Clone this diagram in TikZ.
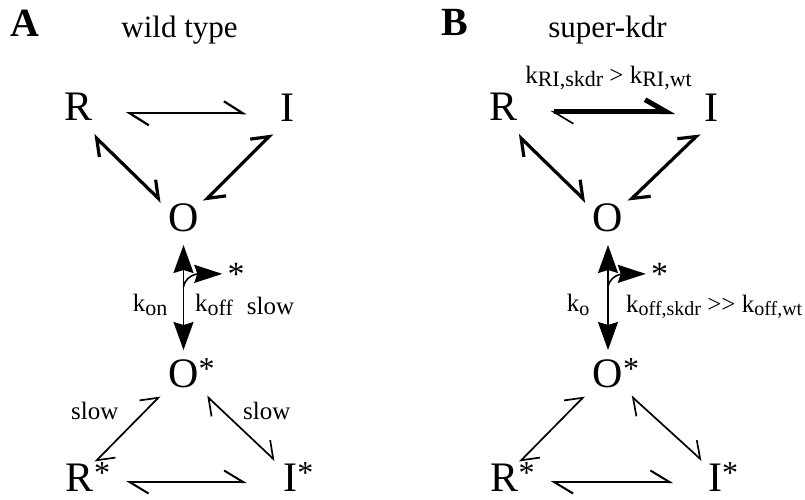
\documentclass[tikz,border=0pt]{standalone}
\usepackage{fontspec}
\setmainfont{Liberation Serif}
\usetikzlibrary{arrows.meta,calc}
\newcommand{\st}{\rlap{\raisebox{8pt}{\fontsize{32}{32}\selectfont *}}}
\newcommand{\kr}[2][22]{k\raisebox{-3.3pt}{\fontsize{#1}{#1}\selectfont #2}}

\begin{document}
\begin{tikzpicture}[
  x=1pt,y=-1pt,
  species/.style={font=\fontsize{42}{42}\selectfont,inner sep=0pt,outer sep=0pt,anchor=base},
  ratelbl/.style={font=\fontsize{25}{25}\selectfont,inner sep=0pt,anchor=base west},
  panel/.style={font=\bfseries\fontsize{40}{40}\selectfont,inner sep=0pt,anchor=base west},
  strain/.style={font=\fontsize{31}{31}\selectfont,inner sep=0pt,anchor=base},
  ligand/.style={font=\fontsize{34}{34}\selectfont,inner sep=0pt,anchor=base},
  % setas de equilibrio (meia-ponta em cada extremo)
  eqlink/.style={line width=2.2pt,arrows={Straight Barb[left,length=19pt,width=24pt]-Straight Barb[left,length=19pt,width=24pt]}},
  eqbold/.style={line width=3.2pt,arrows={Straight Barb[left,length=15pt,width=23pt]-Straight Barb[left,length=15pt,width=23pt]}},
  eqlow/.style={line width=1.7pt,arrows={Straight Barb[left,length=15pt,width=23pt]-Straight Barb[left,length=15pt,width=23pt]}},
  eqbase/.style={line width=2pt,arrows={Straight Barb[left,length=19pt,width=23pt]-Straight Barb[left,length=19pt,width=23pt]}},
  eqfast/.style={line width=5pt,arrows={Straight Barb[left,length=20pt,width=24pt,line width=1.6pt]-Straight Barb[left,length=21pt,width=24pt]}},
  binding/.style={line width=1.6pt,arrows={Stealth[length=28pt,width=20pt,inset=3pt]-Stealth[length=28pt,width=20pt,inset=3pt]}},
  release/.style={line width=1.6pt,arrows={-Stealth[length=28pt,width=18pt,inset=3pt]}}
]
\useasboundingbox (0,0) rectangle (805,499);

% ── Painel A: wild type ──────────────────────────────────────────────────────
\node[panel]  (hdA) at (10,36) {A};
\node[strain] (wtA) at (179.5,37.7) {wild type};
\node[species] (RA)  at (78.5,120)   {R};
\node[species] (IA)  at (287,121)    {I};
\node[species] (OA)  at (183.5,231)  {O};
\node[species] (OsA) at (183.5,387.5){O\st};
\node[species] (RsA) at (80,491)     {R\st};
\node[species] (IsA) at (290.5,491)  {I\st};
\node[ligand]  (starA) at (236,285)  {*};

\draw[eqlink] ([shift={(47.5,-6.7)}]RA.base) -- ([shift={(-40.3,-7.7)}]IA.base);
\draw[eqbold] ([shift={(14.8,15)}]RA.base) -- ([shift={(-21.8,-29.3)}]OA.base);
\draw[eqbold] ([shift={(-14.7,12.3)}]IA.base) -- ([shift={(20.5,-29.3)}]OA.base);
\draw[binding] ([yshift=-14pt]OA.base) -- ([yshift=37.5pt]OsA.base);
\coordinate (bendA) at ([yshift=-56pt]OA.base);
\draw[release] (bendA) to[out=80,in=180] ([xshift=-5pt]starA.west);
\draw[eqlow] ([shift={(-23.5,8.5)}]OsA.base) -- ([shift={(15,-29)}]RsA.base);
\draw[eqlow] ([shift={(23.2,8.5)}]OsA.base) -- ([shift={(-15.5,-30.5)}]IsA.base);
\draw[eqbase] ([shift={(46,-9)}]RsA.base) -- ([shift={(-43.8,-9)}]IsA.base);

\node[ratelbl] (konA)   at (132.7,311.7) {\kr{on}};
\node[ratelbl] (koffA)  at (195,311.7)   {\kr{off}};
\node[ratelbl] (slowA)  at (246.7,314.5) {slow};
\node[ratelbl] (slowRA) at (71,419)      {slow};
\node[ratelbl] (slowIA) at (243,419)     {slow};

% ── Painel B: super-kdr (mesma geometria, deslocada) ─────────────────────────
\begin{scope}[xshift=424.5pt]
\node[panel]  (hdB) at (17,35.5) {B};
\node[strain] (wtB) at (183,37.7) {super-kdr};
\node[species] (RB)  at (78.5,120)   {R};
\node[species] (IB)  at (287,121)    {I};
\node[species] (OB)  at (183.5,231)  {O};
\node[species] (OsB) at (183.5,387.5){O\st};
\node[species] (RsB) at (80,491)     {R\st};
\node[species] (IsB) at (290.5,491)  {I\st};
\node[ligand]  (starB) at (235,285)  {*};

\draw[eqfast] ([shift={(47.5,-8.3)}]RB.base) -- ([shift={(-36,-9.3)}]IB.base);
\draw[eqbold] ([shift={(14.8,15)}]RB.base) -- ([shift={(-21.8,-29.3)}]OB.base);
\draw[eqbold] ([shift={(-12,12.3)}]IB.base) -- ([shift={(20.5,-29.3)}]OB.base);
\draw[binding] ([yshift=-14pt]OB.base) -- ([yshift=37.5pt]OsB.base);
\coordinate (bendB) at ([yshift=-56pt]OB.base);
\draw[release] (bendB) to[out=80,in=180] ([xshift=-5pt]starB.west);
\draw[eqlow] ([shift={(-23.5,8.5)}]OsB.base) -- ([shift={(15,-29)}]RsB.base);
\draw[eqlow] ([shift={(23.2,8.5)}]OsB.base) -- ([shift={(-13,-30.5)}]IsB.base);
\draw[eqbase] ([shift={(46,-9)}]RsB.base) -- ([shift={(-42,-9)}]IsB.base);

\node[ratelbl,anchor=base] (kriB) at (184,83) {\kr{RI,skdr} > \kr{RI,wt}};
\node[ratelbl] (koB)   at (142.2,311.7) {\kr[20]{o}};
\node[ratelbl] (koffB) at (201.5,312)   {\kr[20]{off,skdr} >{}> \kr[20]{off,wt}};
\end{scope}
\end{tikzpicture}
\end{document}
